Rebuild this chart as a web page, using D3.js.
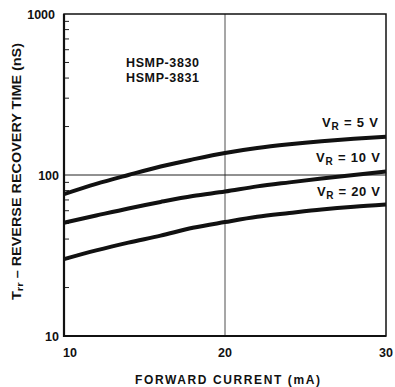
<!DOCTYPE html>
<html>
<head>
<meta charset="utf-8">
<script src="https://cdn.jsdelivr.net/npm/d3@7"></script>
<style>
  body { margin: 0; background: #fff; }
  text { font-family: 'Liberation Sans', Arial, sans-serif; fill: #111; }
</style>
</head>
<body>
<div id="chart"></div>
<script>
var current = [10, 12, 14, 16, 18, 20, 22, 24, 26, 28, 30]
var trr5V = [76, 88, 100, 113, 125, 137, 147, 155, 162, 168, 173]
var trr10V = [50.5, 56, 62, 68, 74, 79, 85, 90, 95, 100, 105]
var trr20V = [30, 34, 38, 42, 47, 51, 55, 58, 61, 63.5, 65.5]
var seriesLabels = ['5 V', '10 V', '20 V']
var xTicks = [10, 20, 30]
var yTicks = [10, 100, 1000]

var margin = { top: 14, left: 64, right: 9, bottom: 51 }
var width = 395 - margin.left - margin.right
var height = 387 - margin.top - margin.bottom

var svg = d3
  .select('#chart')
  .append('svg')
  .attr('width', 395)
  .attr('height', 387)
  .append('g')
  .attr('transform', 'translate(' + margin.left + ',' + margin.top + ')')

var xScale = d3.scaleLinear().domain([10, 30]).range([0, width])
var yScale = d3.scaleLog().domain([10, 1000]).range([height, 0])

// minor ticks on the left edge, inward
var minor = []
;[10, 100].forEach(function(dec) {
  for (var i = 2; i <= 9; i++) minor.push(dec * i)
})
svg
  .selectAll('.minor')
  .data(minor)
  .enter()
  .append('line')
  .attr('x1', 0)
  .attr('x2', 5)
  .attr('y1', d => yScale(d))
  .attr('y2', d => yScale(d))
  .attr('stroke', '#222')
  .attr('stroke-width', 1)

// grid lines
svg
  .append('line')
  .attr('x1', 0)
  .attr('x2', width)
  .attr('y1', yScale(100))
  .attr('y2', yScale(100))
  .attr('stroke', '#222')
  .attr('stroke-width', 1)
svg
  .append('line')
  .attr('x1', xScale(20))
  .attr('x2', xScale(20))
  .attr('y1', 0)
  .attr('y2', height)
  .attr('stroke', '#222')
  .attr('stroke-width', 0.8)

// frame
svg
  .append('rect')
  .attr('x', 0)
  .attr('y', 0)
  .attr('width', width)
  .attr('height', height)
  .attr('fill', 'none')
  .attr('stroke', '#111')
  .attr('stroke-width', 1.5)
svg
  .append('path')
  .attr('d', 'M0,0V' + height + 'H' + width)
  .attr('fill', 'none')
  .attr('stroke', '#111')
  .attr('stroke-width', 2.2)

// curves
var line = d3
  .line()
  .x((d, i) => xScale(current[i]))
  .y(d => yScale(d))
  .curve(d3.curveMonotoneX)

;[trr5V, trr10V, trr20V].forEach(function(s) {
  svg
    .append('path')
    .datum(s)
    .attr('d', line)
    .attr('fill', 'none')
    .attr('stroke', '#111')
    .attr('stroke-width', 4)
})

// tick labels
svg
  .selectAll('.ylab')
  .data(yTicks)
  .enter()
  .append('text')
  .attr('x', d => (d === 1000 ? -9 : -5))
  .attr('y', d => yScale(d))
  .attr('dy', '0.36em')
  .attr('text-anchor', 'end')
  .attr('font-size', 12.5)
  .attr('font-weight', 700)
  .text(d => d)

svg
  .selectAll('.xlab')
  .data(xTicks)
  .enter()
  .append('text')
  .attr('x', d => xScale(d) + (d === 10 ? 6 : 0))
  .attr('y', height + 21)
  .attr('text-anchor', 'middle')
  .attr('font-size', 12.5)
  .attr('font-weight', 700)
  .text(d => d)

// series labels
var labelPos = [
  { x: width - 8, y: 113, w: 56 },
  { x: width - 6, y: 148, w: 64 },
  { x: width - 6, y: 182, w: 63 }
]
seriesLabels.forEach(function(lab, i) {
  var t = svg
    .append('text')
    .attr('x', labelPos[i].x)
    .attr('y', labelPos[i].y)
    .attr('text-anchor', 'end')
    .attr('font-size', 13)
    .attr('font-weight', 700)
    .attr('textLength', labelPos[i].w)
    .attr('lengthAdjust', 'spacing')
  t.append('tspan').text('V')
  t.append('tspan').attr('font-size', 10).attr('dy', 3).text('R')
  t.append('tspan').attr('dy', -3).text(' = ' + lab)
})

// part numbers
;['HSMP-3830', 'HSMP-3831'].forEach(function(name, i) {
  svg
    .append('text')
    .attr('x', 62)
    .attr('y', 53 + i * 15)
    .attr('font-size', 12.5)
    .attr('font-weight', 700)
    .attr('textLength', 73)
    .attr('lengthAdjust', 'spacing')
    .text(name)
})

// axis titles
svg
  .append('text')
  .attr('x', 71)
  .attr('y', height + 48)
  .attr('font-size', 12)
  .attr('font-weight', 700)
  .attr('textLength', 185)
  .attr('lengthAdjust', 'spacing')
  .text('FORWARD CURRENT (mA)')

var yt = svg
  .append('text')
  .attr('transform', 'translate(-43,' + (300 - margin.top) + ') rotate(-90)')
  .attr('font-size', 12)
  .attr('font-weight', 700)
  .attr('textLength', 257)
  .attr('lengthAdjust', 'spacingAndGlyphs')
yt.append('tspan').text('T')
yt.append('tspan').attr('font-size', 9.5).attr('dy', 2).text('rr')
yt.append('tspan').attr('dy', -2).text(' – REVERSE RECOVERY TIME (nS)')
</script>
</body>
</html>
